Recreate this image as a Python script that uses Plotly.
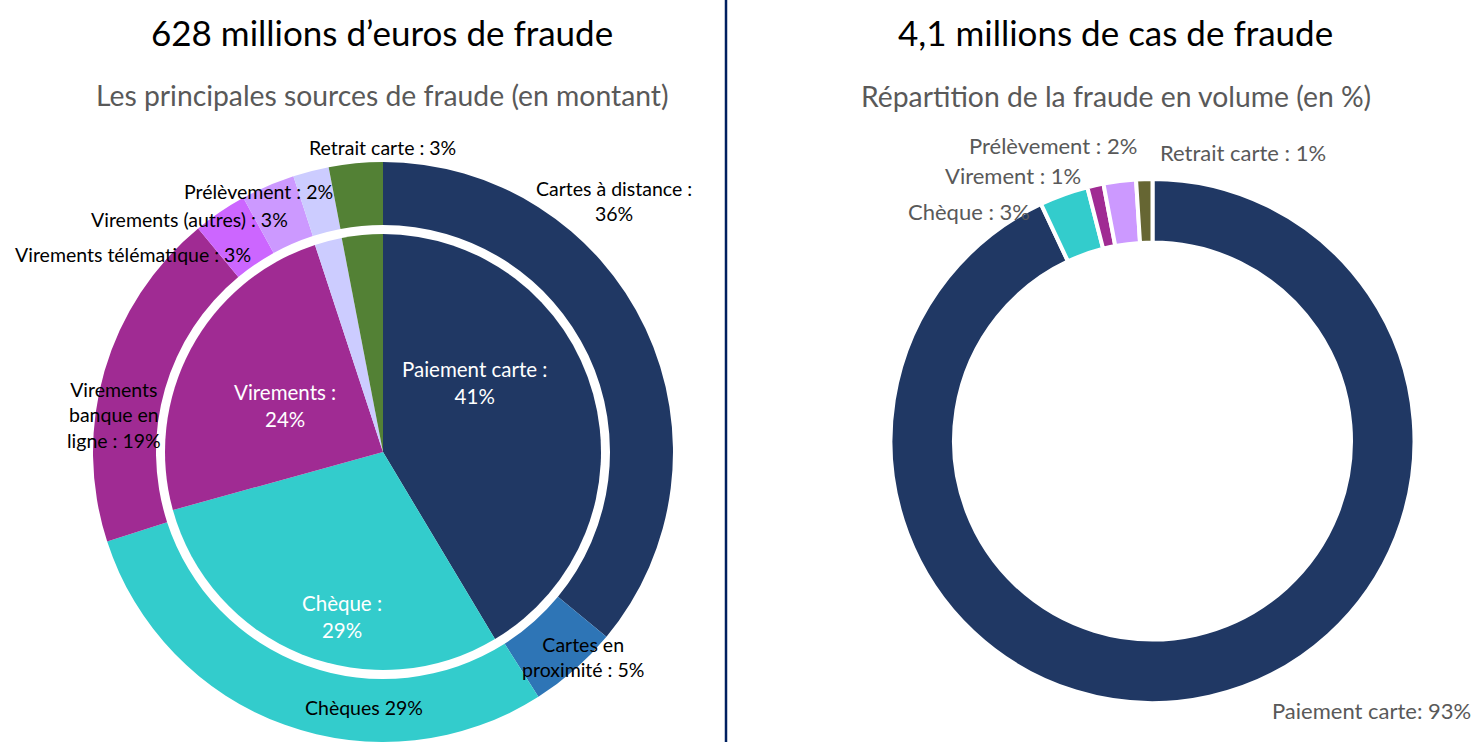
import plotly.graph_objects as go

W, H = 1474, 742

# ---------------- data ----------------
inner_labels = ["Paiement carte", "Chèque", "Virements", "Prélèvement", "Retrait carte"]
inner_values = [41, 29, 24, 2, 3]
inner_colors = ["#203864", "#33CCCC", "#A02B93", "#CCCCFF", "#538135"]

outer_labels = ["Cartes à distance", "Cartes en proximité", "Chèques",
                "Virements banque en ligne", "Virements télématique",
                "Virements (autres)", "Prélèvement", "Retrait carte"]
outer_values = [36, 5, 29, 19, 3, 3, 2, 3]
outer_colors = ["#203864", "#2E75B6", "#33CCCC", "#A02B93", "#CC66FF",
                "#CC99FF", "#CCCCFF", "#538135"]

vol_labels = ["Paiement carte", "Chèque", "Virement", "Prélèvement", "Retrait carte"]
vol_values = [93, 3, 1, 2, 1]
vol_colors = ["#203864", "#33CCCC", "#A02B93", "#CC99FF", "#666633"]

# display label prefixes (how each label is written on the chart)
inner_text_prefix = ["Paiement carte :<br>", "Chèque :<br>", "Virements :<br>", None, None]
outer_text_prefix = ["Cartes à distance :<br>", "Cartes en<br>proximité : ", "Chèques ",
                     "Virements<br>banque en<br>ligne : ", "Virements télématique : ",
                     "Virements (autres) : ", "Prélèvement : ", "Retrait carte : "]
vol_text_prefix = ["Paiement carte: ", "Chèque : ", "Virement : ", "Prélèvement : ",
                   "Retrait carte : "]

title_left = "628 millions d’euros de fraude"
subtitle_left = "Les principales sources de fraude (en montant)"
title_right = "4,1 millions de cas de fraude"
subtitle_right = "Répartition de la fraude en volume (en %)"

FONT = "Lato, Calibri, Carlito, sans-serif"


def dom_x(cx, r):
    return [(cx - r) / W, (cx + r) / W]


def dom_y(cy, r):
    yc = H - cy
    return [max(0, (yc - r) / H), min(1, (yc + r) / H)]


fig = go.Figure()

# left: outer ring
cxL, cyL = 383, 452
rO = 290
fig.add_trace(go.Pie(
    labels=outer_labels, values=outer_values, sort=False, direction="clockwise",
    rotation=0, hole=227 / rO, marker=dict(colors=outer_colors, line=dict(width=0)),
    textinfo="none", hoverinfo="label+percent", showlegend=False,
    domain=dict(x=dom_x(cxL, rO), y=dom_y(cyL, rO)),
))
# left: inner pie
rI = 218
fig.add_trace(go.Pie(
    labels=inner_labels, values=inner_values, sort=False, direction="clockwise",
    rotation=0, marker=dict(colors=inner_colors, line=dict(width=0)),
    textinfo="none", hoverinfo="label+percent", showlegend=False,
    domain=dict(x=dom_x(cxL, rI), y=dom_y(cyL, rI)),
))
# right donut
cxR, cyR = 1152.5, 441
rR = 262
fig.add_trace(go.Pie(
    labels=vol_labels, values=vol_values, sort=False, direction="clockwise",
    rotation=0, hole=198.5 / rR,
    marker=dict(colors=vol_colors, line=dict(width=4, color="white")),
    textinfo="none", hoverinfo="label+percent", showlegend=False,
    domain=dict(x=dom_x(cxR, rR), y=dom_y(cyR, rR)),
))

annotations = []


def add_text(text, x, y, size, color, xanchor="center"):
    annotations.append(dict(
        text=text, x=x / W, y=1 - y / H, xref="paper", yref="paper",
        xanchor=xanchor, yanchor="middle", showarrow=False,
        font=dict(family=FONT, size=size, color=color), align="center",
    ))


# titles
add_text(title_left, 382, 32, 35, "#000000")
add_text(subtitle_left, 382, 95, 28.3, "#595959")
add_text(title_right, 1115, 32, 35, "#000000")
add_text(subtitle_right, 1116, 96, 28.3, "#595959")

# inner labels (white)
inner_pos = [(475, 383), (342, 616), (285, 405)]
for i, p in enumerate(inner_pos):
    add_text(inner_text_prefix[i] + f"{inner_values[i]}%", p[0], p[1], 20.5, "#FFFFFF")

# outer labels (black)
outer_pos = [(614, 201), (583, 657), (364, 707), (114, 415), (133, 254),
             (189, 219), (258, 191), (382, 147)]
for i, p in enumerate(outer_pos):
    add_text(outer_text_prefix[i] + f"{outer_values[i]}%", p[0], p[1], 19.5, "#000000")

# volume labels (grey)
vol_pos = [(1371, 710), (969, 211), (1013, 175), (1053, 145), (1243, 152)]
for i, p in enumerate(vol_pos):
    add_text(vol_text_prefix[i] + f"{vol_values[i]}%", p[0], p[1], 22, "#595959")

fig.update_layout(
    width=W, height=H, margin=dict(l=0, r=0, t=0, b=0),
    paper_bgcolor="white", plot_bgcolor="white",
    annotations=annotations,
    shapes=[dict(type="line", xref="paper", yref="paper", x0=726 / W, x1=726 / W,
                 y0=0, y1=1, line=dict(color="#002060", width=2.5))],
)

fig.write_html("out.html", config={"displayModeBar": False},
               post_script="document.body.style.margin='0';document.body.style.overflow='hidden';")
